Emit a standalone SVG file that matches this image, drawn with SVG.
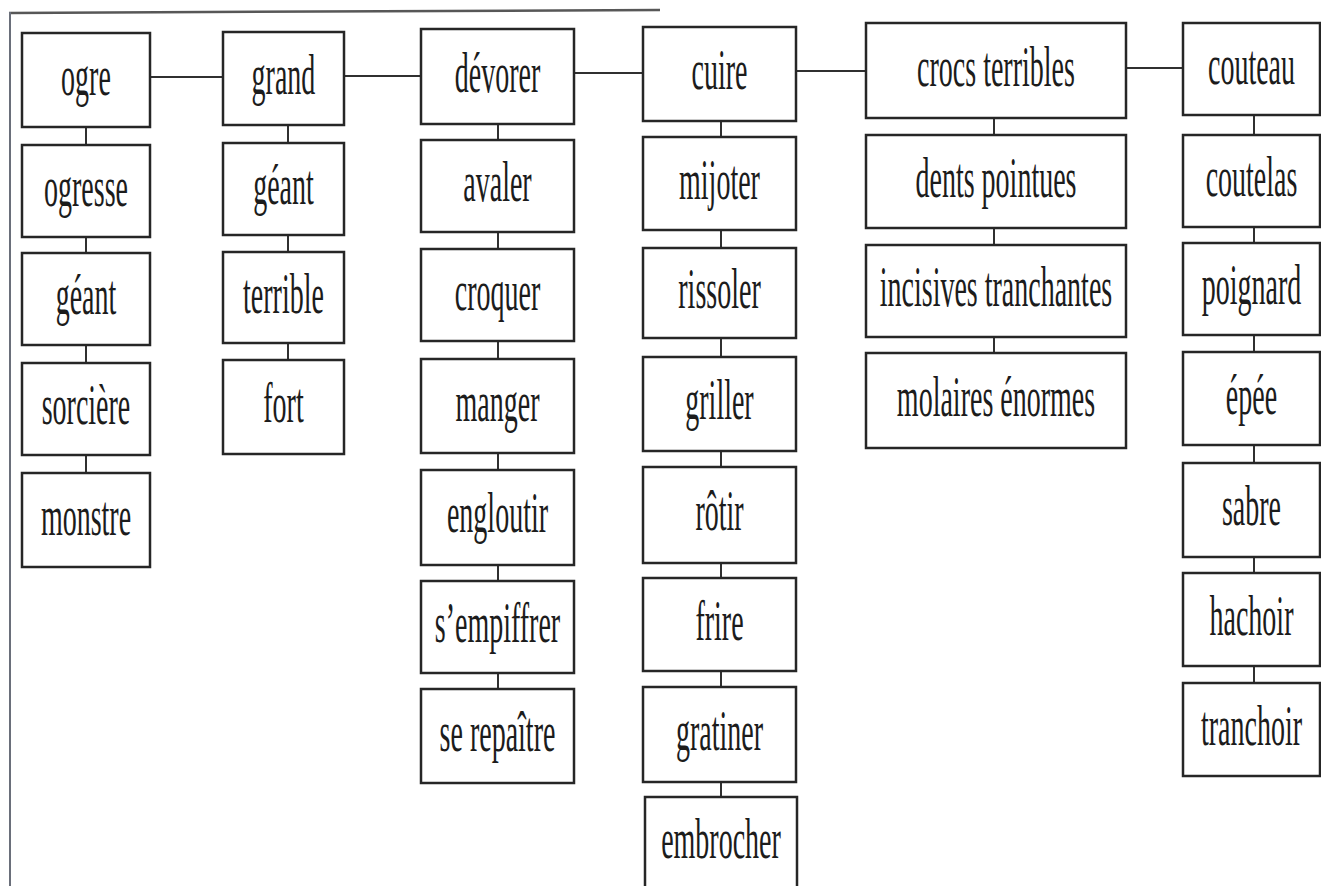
<svg xmlns="http://www.w3.org/2000/svg" width="1321" height="886" viewBox="0 0 1321 886">
<style>
.b{fill:#fff;stroke:#262626;stroke-width:2.5}
.t{font-family:"Liberation Serif","Times New Roman",serif;font-size:56px;fill:#1c1c1c;text-anchor:middle}
.c{stroke:#303030;stroke-width:2;fill:none}
</style>
<rect width="1321" height="886" fill="#fff"/>
<g id="frame">
<line x1="9" y1="13" x2="660" y2="10" stroke="#3a3a3a" stroke-width="2.5" opacity="0.85"/>
<line x1="10" y1="12" x2="10" y2="886" stroke="#6a6f7a" stroke-width="2"/>
</g>
<g id="connectors" class="c">
<line x1="150" y1="77" x2="223" y2="77"/>
<line x1="344" y1="76" x2="421" y2="76"/>
<line x1="574" y1="73" x2="643" y2="73"/>
<line x1="796" y1="71" x2="866" y2="71"/>
<line x1="1126" y1="68" x2="1183" y2="68"/>
<line x1="86" y1="127" x2="86" y2="145"/>
<line x1="86" y1="237" x2="86" y2="253"/>
<line x1="86" y1="345" x2="86" y2="363"/>
<line x1="86" y1="455" x2="86" y2="473"/>
<line x1="288" y1="125" x2="288" y2="143"/>
<line x1="288" y1="235" x2="288" y2="252"/>
<line x1="288" y1="343" x2="288" y2="360"/>
<line x1="498" y1="124" x2="498" y2="140"/>
<line x1="498" y1="232" x2="498" y2="249"/>
<line x1="498" y1="341" x2="498" y2="359"/>
<line x1="498" y1="453" x2="498" y2="470"/>
<line x1="498" y1="565" x2="498" y2="581"/>
<line x1="498" y1="673" x2="498" y2="689"/>
<line x1="721" y1="121" x2="721" y2="137"/>
<line x1="721" y1="230" x2="721" y2="248"/>
<line x1="721" y1="338" x2="721" y2="357"/>
<line x1="721" y1="451" x2="721" y2="467"/>
<line x1="721" y1="563" x2="721" y2="578"/>
<line x1="721" y1="671" x2="721" y2="687"/>
<line x1="721" y1="782" x2="721" y2="797"/>
<line x1="994" y1="118" x2="994" y2="135"/>
<line x1="994" y1="228" x2="994" y2="245"/>
<line x1="994" y1="337" x2="994" y2="353"/>
<line x1="1254" y1="115" x2="1254" y2="135"/>
<line x1="1254" y1="227" x2="1254" y2="243"/>
<line x1="1254" y1="335" x2="1254" y2="352"/>
<line x1="1254" y1="445" x2="1254" y2="463"/>
<line x1="1254" y1="557" x2="1254" y2="573"/>
<line x1="1254" y1="666" x2="1254" y2="683"/>
</g>
<g id="n-ogre"><rect class="b" x="22" y="33" width="128" height="94"/><text class="t" x="172" y="95" transform="scale(.5 1)">ogre</text></g>
<g id="n-ogresse"><rect class="b" x="22" y="145" width="128" height="92"/><text class="t" x="172" y="206" transform="scale(.5 1)">ogresse</text></g>
<g id="n-geant1"><rect class="b" x="22" y="253" width="128" height="92"/><text class="t" x="172" y="314" transform="scale(.5 1)">géant</text></g>
<g id="n-sorciere"><rect class="b" x="22" y="363" width="128" height="92"/><text class="t" x="172" y="424" transform="scale(.5 1)">sorcière</text></g>
<g id="n-monstre"><rect class="b" x="22" y="473" width="128" height="94"/><text class="t" x="172" y="535" transform="scale(.5 1)">monstre</text></g>
<g id="n-grand"><rect class="b" x="223" y="32" width="121" height="93"/><text class="t" x="567" y="94" transform="scale(.5 1)">grand</text></g>
<g id="n-geant2"><rect class="b" x="223" y="143" width="121" height="92"/><text class="t" x="567" y="204" transform="scale(.5 1)">géant</text></g>
<g id="n-terrible"><rect class="b" x="223" y="252" width="121" height="91"/><text class="t" x="567" y="313" transform="scale(.5 1)">terrible</text></g>
<g id="n-fort"><rect class="b" x="223" y="360" width="121" height="94"/><text class="t" x="567" y="422" transform="scale(.5 1)">fort</text></g>
<g id="n-devorer"><rect class="b" x="421" y="29" width="153" height="95"/><text class="t" x="995" y="92" transform="scale(.5 1)">dévorer</text></g>
<g id="n-avaler"><rect class="b" x="421" y="140" width="153" height="92"/><text class="t" x="995" y="201" transform="scale(.5 1)">avaler</text></g>
<g id="n-croquer"><rect class="b" x="421" y="249" width="153" height="92"/><text class="t" x="995" y="310" transform="scale(.5 1)">croquer</text></g>
<g id="n-manger"><rect class="b" x="421" y="359" width="153" height="94"/><text class="t" x="995" y="421" transform="scale(.5 1)">manger</text></g>
<g id="n-engloutir"><rect class="b" x="421" y="470" width="153" height="95"/><text class="t" x="995" y="532" transform="scale(.5 1)">engloutir</text></g>
<g id="n-sempiffrer"><rect class="b" x="421" y="581" width="153" height="92"/><text class="t" x="995" y="642" transform="scale(.5 1)">s’empiffrer</text></g>
<g id="n-serepaitre"><rect class="b" x="421" y="689" width="153" height="94"/><text class="t" x="995" y="751" transform="scale(.5 1)">se repaître</text></g>
<g id="n-cuire"><rect class="b" x="643" y="27" width="153" height="94"/><text class="t" x="1439" y="89" transform="scale(.5 1)">cuire</text></g>
<g id="n-mijoter"><rect class="b" x="643" y="137" width="153" height="93"/><text class="t" x="1439" y="199" transform="scale(.5 1)">mijoter</text></g>
<g id="n-rissoler"><rect class="b" x="643" y="248" width="153" height="90"/><text class="t" x="1439" y="308" transform="scale(.5 1)">rissoler</text></g>
<g id="n-griller"><rect class="b" x="643" y="357" width="153" height="94"/><text class="t" x="1439" y="419" transform="scale(.5 1)">griller</text></g>
<g id="n-rotir"><rect class="b" x="643" y="467" width="153" height="96"/><text class="t" x="1439" y="530" transform="scale(.5 1)">rôtir</text></g>
<g id="n-frire"><rect class="b" x="643" y="578" width="153" height="93"/><text class="t" x="1439" y="640" transform="scale(.5 1)">frire</text></g>
<g id="n-gratiner"><rect class="b" x="643" y="687" width="153" height="95"/><text class="t" x="1439" y="750" transform="scale(.5 1)">gratiner</text></g>
<g id="n-embrocher"><rect class="b" x="645" y="797" width="152" height="110"/><text class="t" x="1442" y="858" transform="scale(.5 1)">embrocher</text></g>
<g id="n-crocs"><rect class="b" x="866" y="23" width="260" height="95"/><text class="t" x="1992" y="86" transform="scale(.5 1)">crocs terribles</text></g>
<g id="n-dents"><rect class="b" x="866" y="135" width="260" height="93"/><text class="t" x="1992" y="197" transform="scale(.5 1)">dents pointues</text></g>
<g id="n-incisives"><rect class="b" x="866" y="245" width="260" height="92"/><text class="t" x="1992" y="306" transform="scale(.5 1)">incisives tranchantes</text></g>
<g id="n-molaires"><rect class="b" x="866" y="353" width="260" height="95"/><text class="t" x="1992" y="416" transform="scale(.5 1)">molaires énormes</text></g>
<g id="n-couteau"><rect class="b" x="1183" y="23" width="137" height="92"/><text class="t" x="2503" y="84" transform="scale(.5 1)">couteau</text></g>
<g id="n-coutelas"><rect class="b" x="1183" y="135" width="137" height="92"/><text class="t" x="2503" y="196" transform="scale(.5 1)">coutelas</text></g>
<g id="n-poignard"><rect class="b" x="1183" y="243" width="137" height="92"/><text class="t" x="2503" y="304" transform="scale(.5 1)">poignard</text></g>
<g id="n-epee"><rect class="b" x="1183" y="352" width="137" height="93"/><text class="t" x="2503" y="414" transform="scale(.5 1)">épée</text></g>
<g id="n-sabre"><rect class="b" x="1183" y="463" width="137" height="94"/><text class="t" x="2503" y="525" transform="scale(.5 1)">sabre</text></g>
<g id="n-hachoir"><rect class="b" x="1183" y="573" width="137" height="93"/><text class="t" x="2503" y="635" transform="scale(.5 1)">hachoir</text></g>
<g id="n-tranchoir"><rect class="b" x="1183" y="683" width="137" height="93"/><text class="t" x="2503" y="745" transform="scale(.5 1)">tranchoir</text></g>
</svg>
